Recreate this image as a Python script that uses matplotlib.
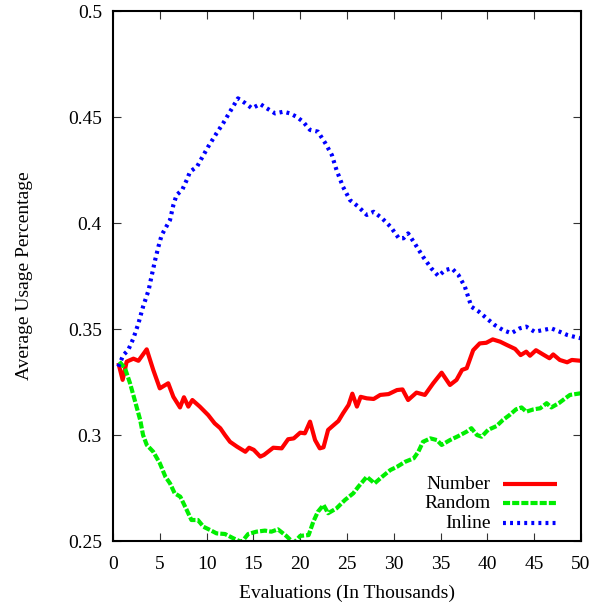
import numpy as np
import matplotlib
matplotlib.use('Agg')
from matplotlib import pyplot as plt


# Data (evaluations in thousands, average usage percentage)

number_x = [0.57, 1.03, 1.46, 2.18, 2.72, 3.6, 4.3, 5.0, 5.9, 6.45, 7.16, 7.58,
            8.05, 8.48, 9.27, 10.17, 10.86, 11.46, 11.96, 12.5, 13.25, 14.14,
            14.54, 15.04, 15.73, 16.13, 17.12, 18.02, 18.71, 19.31, 20.0, 20.5,
            21.05, 21.59, 22.09, 22.49, 22.98, 23.58, 24.08, 24.57, 25.17, 25.57,
            26.06, 26.46, 27.11, 27.85, 28.55, 29.44, 30.34, 30.93, 31.53, 32.42,
            33.32, 34.21, 35.11, 36.0, 36.7, 37.29, 37.79, 38.48, 39.18, 39.88,
            40.57, 41.37, 42.06, 42.96, 43.55, 44.15, 44.55, 45.19, 45.94, 46.63,
            47.03, 47.73, 48.52, 49.02, 50.0]
number_y = [0.334, 0.326, 0.3346, 0.336, 0.335, 0.3404, 0.3307, 0.322, 0.3244,
            0.318, 0.313, 0.3178, 0.3134, 0.3165, 0.3134, 0.3094, 0.3055, 0.3032,
            0.300, 0.2968, 0.2945, 0.2921, 0.294, 0.293, 0.2898, 0.2906, 0.294,
            0.2937, 0.298, 0.2984, 0.3011, 0.3008, 0.3063, 0.2976, 0.2937, 0.2942,
            0.3024, 0.3047, 0.3066, 0.3102, 0.3142, 0.3195, 0.3134, 0.318, 0.3173,
            0.317, 0.3189, 0.3193, 0.3212, 0.3215, 0.3165, 0.320, 0.3189, 0.3244,
            0.3294, 0.3236, 0.326, 0.3307, 0.3315, 0.340, 0.3432, 0.3435, 0.3451,
            0.344, 0.3425, 0.3406, 0.3377, 0.3393, 0.3374, 0.340, 0.338, 0.3362,
            0.338, 0.3354, 0.3343, 0.3354, 0.335]

random_x = [0.68, 1.28, 1.82, 2.32, 2.91, 3.21, 3.61, 4.3, 5.0, 5.6, 6.09, 6.59,
            7.19, 7.88, 8.38, 9.07, 9.67, 10.37, 11.06, 11.96, 12.85, 13.74,
            14.44, 15.33, 16.23, 16.92, 17.62, 18.51, 19.31, 20.0, 20.9, 21.4,
            21.89, 22.49, 22.98, 23.88, 24.77, 25.67, 26.21, 27.11, 27.95, 28.75,
            29.64, 30.34, 31.23, 32.13, 32.62, 33.12, 33.91, 34.61, 35.11, 36.0,
            36.9, 37.79, 38.29, 38.88, 39.38, 40.07, 40.97, 41.66, 42.36, 43.06,
            43.65, 44.15, 44.94, 45.64, 46.33, 46.83, 47.63, 48.32, 48.82, 50.0]
random_y = [0.3346, 0.3315, 0.3244, 0.3165, 0.307, 0.300, 0.2953, 0.2921, 0.2867,
            0.2803, 0.2772, 0.2725, 0.2709, 0.2646, 0.2599, 0.2599, 0.2567, 0.2552,
            0.2536, 0.2533, 0.2513, 0.2495, 0.2533, 0.2544, 0.2549, 0.2544, 0.2555,
            0.2524, 0.249, 0.2524, 0.2528, 0.2591, 0.2638, 0.267, 0.2631, 0.2654,
            0.2693, 0.2725, 0.2756, 0.2803, 0.2772, 0.2803, 0.2835, 0.285, 0.2874,
            0.289, 0.2921, 0.2968, 0.2984, 0.2976, 0.2953, 0.2976, 0.2995, 0.3016,
            0.3032, 0.300, 0.2992, 0.3024, 0.3042, 0.3071, 0.3094, 0.3121, 0.313,
            0.311, 0.3121, 0.3126, 0.315, 0.313, 0.315, 0.3173, 0.3189, 0.3197]

inline_x = [0.57, 1.1, 1.62, 2.18, 2.72, 3.21, 3.81, 4.11, 4.5, 4.85, 5.2, 5.6,
            6.09, 6.45, 6.79, 7.39, 7.88, 8.23, 8.98, 9.47, 10.17, 11.06, 11.76,
            12.5, 13.35, 14.14, 14.84, 15.73, 16.43, 17.32, 18.22, 18.91, 19.61,
            20.3, 21.05, 21.89, 22.69, 23.38, 23.88, 24.57, 25.32, 26.21, 27.11,
            27.85, 28.75, 29.64, 30.54, 31.03, 31.53, 32.23, 33.12, 34.01, 34.76,
            35.5, 36.2, 36.9, 37.59, 38.29, 39.08, 39.93, 40.77, 41.66, 42.56,
            43.45, 44.15, 45.04, 45.94, 46.83, 47.73, 48.52, 49.22, 50.0]
inline_y = [0.3322, 0.3377, 0.340, 0.3456, 0.3527, 0.3605, 0.3684, 0.3747, 0.3825,
            0.3888, 0.3943, 0.3975, 0.4014, 0.4085, 0.4132, 0.4156, 0.4203, 0.4242,
            0.4266, 0.4305, 0.436, 0.4423, 0.447, 0.4525, 0.4588, 0.4565, 0.4541,
            0.4561, 0.4541, 0.4517, 0.4525, 0.4517, 0.4501, 0.4478, 0.4439, 0.4431,
            0.4376, 0.4321, 0.425, 0.4171, 0.4108, 0.4077, 0.4038, 0.4053, 0.4022,
            0.3983, 0.3928, 0.3928, 0.3951, 0.3904, 0.3841, 0.3786, 0.375, 0.3778,
            0.3786, 0.3755, 0.370, 0.3605, 0.3582, 0.355, 0.3519, 0.3495, 0.348,
            0.3503, 0.3511, 0.3487, 0.3495, 0.3503, 0.3487, 0.3472, 0.3464, 0.3456]

series = [('Number', number_x, number_y, '#ff0000', '-'),
          ('Random', random_x, random_y, '#00ee00', (0, (1.7, 0.5))),
          ('Inline', inline_x, inline_y, '#0000ff', (0, (0.7, 1.0)))]

xticks = [0, 5, 10, 15, 20, 25, 30, 35, 40, 45, 50]
yticks = [0.25, 0.3, 0.35, 0.4, 0.45, 0.5]

# Figure setup
plt.rcParams['font.family'] = ['Liberation Serif', 'DejaVu Serif']
fig = plt.figure(figsize=(5.93, 6.02), dpi=100)
ax = fig.add_axes([113/593, 61/602, 468/593, 530/602])

for name, xs, ys, col, ls in series:
    ax.plot(xs, ys, color=col, lw=3, ls=ls, solid_capstyle='butt',
            dash_capstyle='butt', clip_on=True)

ax.set_xlim(0, 50)
ax.set_ylim(0.25, 0.5)
ax.set_xticks(xticks)
ax.set_yticks(yticks)
ax.set_xticklabels([str(t) for t in xticks])
ax.set_yticklabels(['0.25', '0.3', '0.35', '0.4', '0.45', '0.5'])
ax.tick_params(direction='in', length=6, width=0.8, color='#333333',
               top=True, right=True, labelsize=14, pad=8)
ax.tick_params(axis='x', pad=11)
for s in ax.spines.values():
    s.set_linewidth(1.5)

ax.set_xlabel('Evaluations (In Thousands)', fontsize=14, labelpad=8.5)
ax.set_ylabel('Average Usage Percentage', fontsize=14, labelpad=25)

# gnuplot-style key: text right-aligned, sample to the right
rows = [0.107, 0.0711, 0.0334]
for (name, xs, ys, col, ls), yy in zip(series, rows):
    ax.text(0.807, yy, name, transform=ax.transAxes, ha='right', va='center',
            fontsize=14)
    ax.plot([0.834, 0.949], [yy, yy], transform=ax.transAxes, color=col,
            lw=3, ls=ls, solid_capstyle='butt', dash_capstyle='butt')

fig.savefig('out.png', dpi=100)
